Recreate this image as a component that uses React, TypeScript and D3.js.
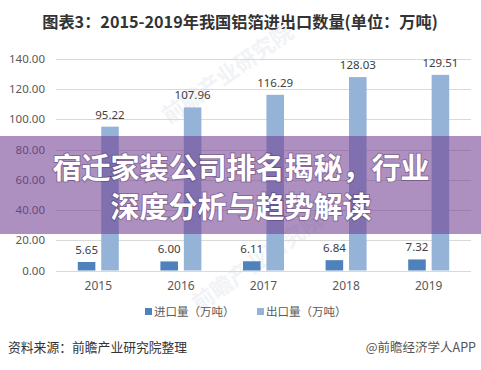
import { useEffect, useRef } from 'react';
import * as d3 from 'd3';

const years = ['2015', '2016', '2017', '2018', '2019'];
const importValues = [5.65, 6.0, 6.11, 6.84, 7.32];
const exportValues = [95.22, 107.96, 116.29, 128.03, 129.51];
const seriesNames = ['进口量（万吨）', '出口量（万吨）'];
const yTicks = [0, 20, 40, 60, 80, 100, 120, 140];
const overlayLines = ['宿迁家装公司排名揭秘，行业', '深度分析与趋势解读'];

const W = 481;
const H = 370;
const colors = ['#4f81bd', '#95b3d7'];

function App() {
    const svgRef = useRef<SVGSVGElement>(null);

    useEffect(() => {
        const svg = d3.select(svgRef.current);
        svg.selectAll('*').remove();

        const font = '"Noto Sans", "Noto Sans CJK SC", sans-serif';

        svg.append('rect').attr('width', W).attr('height', H).attr('fill', '#fff');

        // title
        svg.append('text')
            .attr('x', 240).attr('y', 28)
            .attr('text-anchor', 'middle')
            .attr('font-family', '"Noto Sans CJK SC", sans-serif')
            .attr('font-weight', 'bold')
            .attr('font-size', 16.2)
            .attr('fill', '#333')
            .text('图表3：2015-2019年我国铝箔进出口数量(单位：万吨)');

        const x = d3.scaleBand().domain(years).range([57, 470]);
        const xSub = d3.scaleBand().domain(['imp', 'exp']).range([-20.5, 20.5]).paddingInner(0.25);
        const y = d3.scaleLinear().domain([0, 140]).range([270.5, 59]);

        // faint watermarks behind the plot
        const marks = [
            { x: 232, y: 80 },
            { x: 262, y: 268 },
        ];
        svg.append('g').selectAll('text')
            .data(marks)
            .join('text')
            .attr('transform', d => `translate(${d.x},${d.y}) rotate(-35)`)
            .attr('text-anchor', 'middle')
            .attr('font-family', '"Noto Sans CJK SC", sans-serif')
            .attr('font-weight', 'bold')
            .attr('font-size', 22)
            .attr('fill', '#f1f3f6')
            .text('前瞻产业研究院');

        // grid + y labels
        svg.append('g').selectAll('line')
            .data(yTicks)
            .join('line')
            .attr('x1', 56).attr('x2', 471)
            .attr('y1', d => Math.round(y(d)) + 0.5)
            .attr('y2', d => Math.round(y(d)) + 0.5)
            .attr('stroke', '#d9d9d9');

        svg.append('g').selectAll('text')
            .data(yTicks)
            .join('text')
            .attr('x', 45)
            .attr('y', d => y(d) + 4)
            .attr('text-anchor', 'end')
            .attr('font-family', font)
            .attr('font-size', 11.5)
            .attr('fill', '#595959')
            .text(d => d.toFixed(2));

        // x labels
        svg.append('g').selectAll('text')
            .data(years)
            .join('text')
            .attr('x', d => (x(d) as number) + x.bandwidth() / 2)
            .attr('y', 290)
            .attr('text-anchor', 'middle')
            .attr('font-family', font)
            .attr('font-size', 12)
            .attr('fill', '#595959')
            .text(d => d);

        const rows = years.map((yr, i) => ({ yr, imp: importValues[i], exp: exportValues[i] }));
        const bars = rows.flatMap(r => [
            { yr: r.yr, key: 'imp', v: r.imp, c: colors[0] },
            { yr: r.yr, key: 'exp', v: r.exp, c: colors[1] },
        ]);

        const cx = (d: { yr: string; key: string }) =>
            (x(d.yr) as number) + x.bandwidth() / 2 + (xSub(d.key) as number);

        svg.append('g').selectAll('rect')
            .data(bars)
            .join('rect')
            .attr('x', d => cx(d))
            .attr('y', d => y(d.v))
            .attr('width', xSub.bandwidth())
            .attr('height', d => y(0) - y(d.v))
            .attr('fill', d => d.c);

        svg.append('g').selectAll('text')
            .data(bars)
            .join('text')
            .attr('x', d => cx(d) + xSub.bandwidth() / 2)
            .attr('y', d => y(d.v) - 8)
            .attr('text-anchor', 'middle')
            .attr('font-family', font)
            .attr('font-size', 11.5)
            .attr('fill', '#404040')
            .text(d => d.v.toFixed(2));

        // legend
        const legendX = [145, 257];
        const lg = svg.append('g').selectAll('g')
            .data(seriesNames)
            .join('g')
            .attr('transform', (d, i) => `translate(${legendX[i]},312)`);
        lg.append('rect')
            .attr('x', 0).attr('y', -4)
            .attr('width', 7).attr('height', 7)
            .attr('fill', (d, i) => colors[i]);
        lg.append('text')
            .attr('x', 9).attr('y', 4)
            .attr('font-family', '"Noto Sans CJK SC", sans-serif')
            .attr('font-size', 11.5)
            .attr('fill', '#595959')
            .text(d => d);

        // footer
        svg.append('text')
            .attr('x', 8).attr('y', 352)
            .attr('font-family', '"Noto Sans CJK SC", sans-serif')
            .attr('font-size', 12.8)
            .attr('fill', '#333')
            .text('资料来源：前瞻产业研究院整理');
        svg.append('text')
            .attr('x', 476).attr('y', 352)
            .attr('text-anchor', 'end')
            .attr('font-family', '"Noto Sans CJK SC", sans-serif')
            .attr('font-size', 12.5)
            .attr('fill', '#555')
            .text('@前瞻经济学人APP');

        // purple overlay band with headline
        svg.append('rect')
            .attr('x', 0).attr('y', 136)
            .attr('width', W).attr('height', 98)
            .attr('fill', 'rgb(113,63,147)')
            .attr('opacity', 0.58);

        svg.append('g').selectAll('text')
            .data(overlayLines)
            .join('text')
            .attr('x', 241)
            .attr('y', (d, i) => 179 + i * 39)
            .attr('text-anchor', 'middle')
            .attr('font-family', '"Noto Sans CJK SC", sans-serif')
            .attr('font-weight', 'bold')
            .attr('font-size', 29)
            .attr('fill', '#fff')
            .style('paint-order', 'stroke')
            .attr('stroke', 'rgba(60,30,80,0.35)')
            .attr('stroke-width', 2)
            .text(d => d);
    }, []);

    return (
        <svg ref={svgRef} width={W} height={H}
            style={{ position: 'absolute', left: 0, top: 0, display: 'block' }} />
    );
}

export default App;
